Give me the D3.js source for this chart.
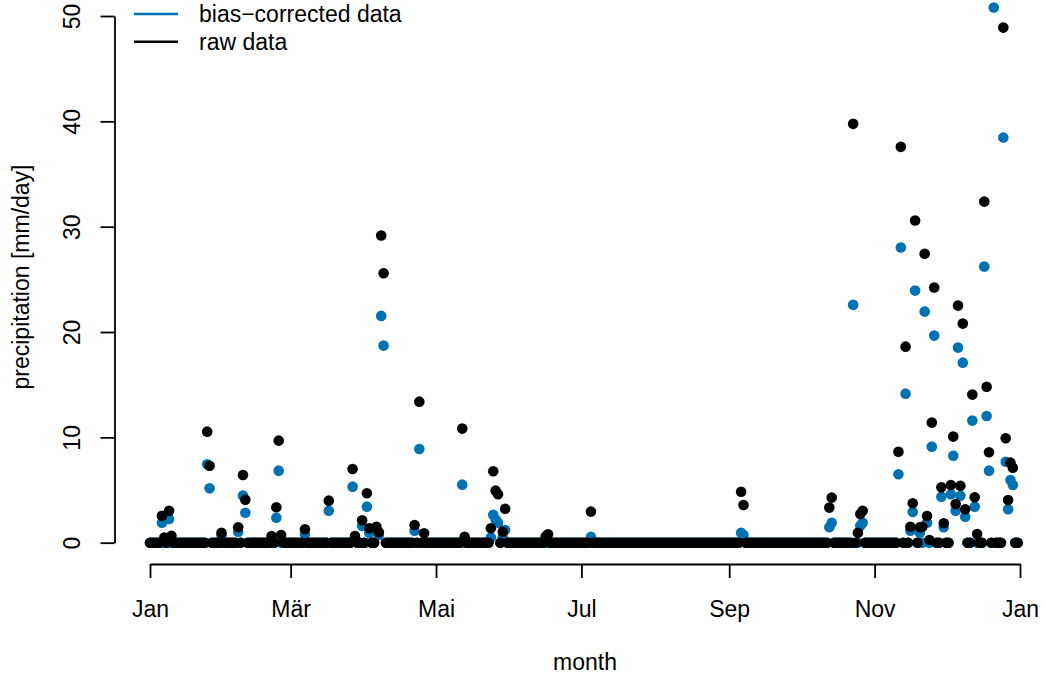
<!DOCTYPE html>
<html>
<head>
<meta charset="utf-8">
<script src="https://cdn.jsdelivr.net/npm/d3@7"></script>
<style>
  html, body { margin: 0; padding: 0; background: #ffffff; }
  svg { display: block; }
  text { font-family: "Liberation Sans", Arial, Helvetica, sans-serif; fill: #000; }
</style>
</head>
<body>
<svg id="chart" width="1044" height="676"></svg>
<script>
// Daily precipitation over one year, raw model output and bias-corrected.
// Days are counted from 1 January (day 0); every day not listed is dry (0 mm).
const year = 2019;

const rawDays = [5, 6, 8, 9, 24, 25, 30, 37, 39, 40, 51, 53, 54, 55,
  65, 75, 85, 86, 89, 91, 92, 95, 96, 97, 98, 111, 113, 115, 131, 132,
  143, 144, 145, 146, 148, 149, 166, 167, 185, 248, 249, 285, 286,
  295, 297, 298, 299, 314, 315, 317, 319, 320, 321, 323, 324, 325, 326,
  327, 328, 329, 332, 333, 336, 337, 338, 339, 340, 341, 342, 345, 346,
  347, 350, 351, 352, 358, 359, 360, 361, 362];
const rawValues = [2.56, 0.5, 3.04, 0.66, 10.54, 7.31, 0.95, 1.46, 6.43, 4.08, 0.64, 3.36, 9.69, 0.73,
  1.27, 3.99, 7.0, 0.64, 2.13, 4.69, 1.37, 1.52, 1.0, 29.16, 25.58, 1.68, 13.39, 0.89, 10.83, 0.57,
  1.37, 6.78, 4.94, 4.6, 1.05, 3.23, 0.6, 0.8, 2.95, 4.84, 3.58, 3.33, 4.28,
  39.76, 0.95, 2.73, 3.04, 8.64, 37.58, 18.61, 1.52, 3.74, 30.58, 1.46, 1.52, 27.42, 2.54,
  0.26, 11.4, 24.22, 5.26, 1.84, 5.48, 10.07, 3.67, 22.51, 5.41, 20.8, 3.17, 14.06, 4.31,
  0.83, 32.38, 14.81, 8.58, 48.9, 9.91, 4.06, 7.6, 7.12];
// raw value on this day lies above the plotted range, so it is not drawn
const rawOffScaleDays = [354];

const correctedDays = [5, 8, 24, 25, 30, 37, 39, 40, 53, 54, 65, 75, 85, 86, 89, 91, 92, 95, 96, 97, 98,
  111, 113, 131, 143, 144, 145, 146, 148, 149, 185, 248, 249, 285, 286, 295, 298, 299,
  314, 315, 317, 319, 320, 321, 323, 325, 326, 328, 329, 332, 333, 336, 337, 338, 339, 340,
  341, 342, 345, 346, 350, 351, 352, 354, 358, 359, 360, 361, 362];
const correctedValues = [1.9, 2.25, 7.44, 5.16, 0.7, 1.05, 4.47, 2.85, 2.37, 6.84, 0.83, 3.04, 5.32, 0.45, 1.59, 3.42, 0.95, 1.1, 0.73, 21.53, 18.71,
  1.14, 8.9, 5.51, 0.5, 2.66, 2.2, 1.9, 0.5, 1.2, 0.55, 0.95, 0.73, 1.46, 1.9, 22.58, 1.6, 1.9,
  6.5, 28.02, 14.15, 1.14, 2.92, 23.93, 0.95, 21.94, 1.9, 9.12, 19.66, 4.37, 1.46, 4.6, 8.26, 3.04, 18.52, 4.46,
  17.09, 2.47, 11.59, 3.42, 26.21, 12.03, 6.84, 50.8, 38.46, 7.69, 3.17, 5.95, 5.48];

const monthTickLabels = ["Jan", "Mär", "Mai", "Jul", "Sep", "Nov", "Jan"];
const yTickValues = [0, 10, 20, 30, 40, 50];
const legendLabels = ["bias\u2212corrected data", "raw data"];
const seriesColors = ["#0072B2", "#000000"];

const FONT = 23;
const start = new Date(year, 0, 1);
const end = new Date(year + 1, 0, 1);
const nDays = d3.timeDay.count(start, end);

function dailySeries(days, values, skip) {
  const lookup = new Map(days.map((d, i) => [d, values[i]]));
  return d3.range(nDays)
    .filter(d => !skip.includes(d))
    .map(d => ({ date: d3.timeDay.offset(start, d), value: lookup.has(d) ? lookup.get(d) : 0 }));
}

const raw = dailySeries(rawDays, rawValues, rawOffScaleDays);
const corrected = dailySeries(correctedDays, correctedValues, []);

const svg = d3.select("#chart");

const x = d3.scaleTime().domain([start, end]).range([150, 1020]);
const y = d3.scaleLinear().domain([0, 50]).range([542.7, 16]);

// clip to the plotting region
svg.append("clipPath").attr("id", "plot-area")
  .append("rect").attr("x", 115).attr("y", -20).attr("width", 940).attr("height", 584);

const pts = svg.append("g").attr("clip-path", "url(#plot-area)");
[corrected, raw].forEach((series, k) => {
  pts.append("g").selectAll("circle")
    .data(series)
    .join("circle")
    .attr("cx", d => x(d.date))
    .attr("cy", d => y(d.value))
    .attr("r", 5.3)
    .attr("fill", seriesColors[k]);
});

// x axis: every second month
const monthTicks = d3.timeMonth.every(2).range(start, d3.timeDay.offset(end, 1));
const xAxis = svg.append("g")
  .attr("transform", "translate(0,564)")
  .call(d3.axisBottom(x).tickValues(monthTicks).tickSize(14).tickSizeOuter(0)
    .tickFormat((d, i) => monthTickLabels[i]));
xAxis.select(".domain").attr("stroke", "#000").attr("stroke-width", 1.8);
xAxis.selectAll(".tick line").attr("stroke", "#000").attr("stroke-width", 1.8);
xAxis.selectAll(".tick text")
  .attr("y", 53).attr("dy", null)
  .attr("font-size", FONT).attr("font-family", null).attr("fill", "#000");

// y axis with labels parallel to the axis
const yAxis = svg.append("g")
  .attr("transform", "translate(114.5,0)")
  .call(d3.axisLeft(y).tickValues(yTickValues).tickSize(14).tickSizeOuter(0).tickFormat(d3.format("d")));
yAxis.select(".domain").attr("stroke", "#000").attr("stroke-width", 1.8);
yAxis.selectAll(".tick line").attr("stroke", "#000").attr("stroke-width", 1.8);
yAxis.selectAll(".tick text")
  .attr("x", null).attr("dy", null)
  .attr("text-anchor", "middle")
  .attr("transform", "translate(-34.5,0) rotate(-90)")
  .attr("font-size", FONT).attr("font-family", null).attr("fill", "#000");

// axis titles
svg.append("text")
  .attr("x", 585).attr("y", 670)
  .attr("text-anchor", "middle").attr("font-size", FONT)
  .text("month");
svg.append("text")
  .attr("transform", "translate(29,277) rotate(-90)")
  .attr("text-anchor", "middle").attr("font-size", FONT)
  .text("precipitation [mm/day]");

// legend
const legend = svg.append("g");
legendLabels.forEach((label, i) => {
  const ly = 14 + i * 27.7;
  legend.append("line")
    .attr("x1", 134).attr("x2", 178).attr("y1", ly).attr("y2", ly)
    .attr("stroke", seriesColors[i]).attr("stroke-width", 2.5);
  legend.append("text")
    .attr("x", 199).attr("y", ly + 8.2)
    .attr("font-size", FONT)
    .text(label);
});
</script>
</body>
</html>
